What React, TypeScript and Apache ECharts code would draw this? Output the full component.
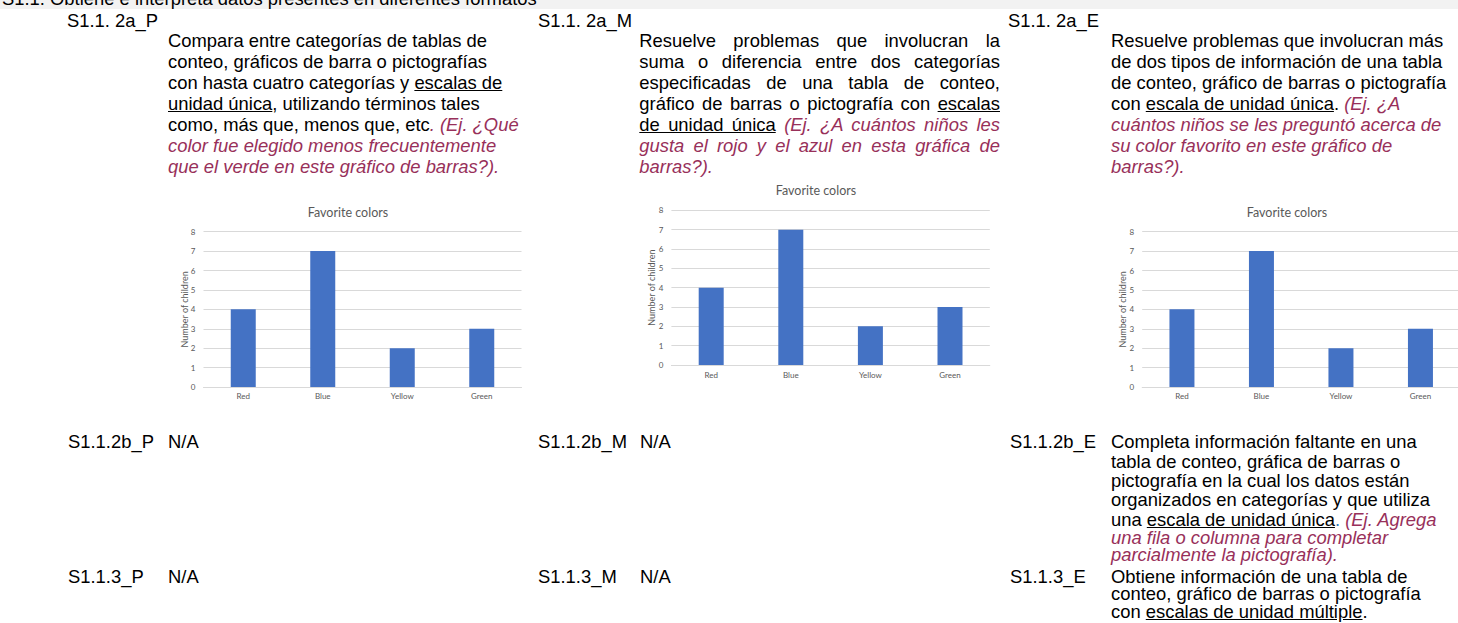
import React, { useEffect, useRef } from "react";
import * as echarts from "echarts";

// ---- data ----
const categories = ["Red", "Blue", "Yellow", "Green"];
const childrenCounts = [4, 7, 2, 3];
const yMin = 0;
const yMax = 8;
const yInterval = 1;
const chartTitle = "Favorite colors";
const yAxisName = "Number of children";

const FONT = '"Liberation Sans", Arial, sans-serif';
const CHART_FONT = 'Lato, "Noto Sans", sans-serif';
const MAROON = "#98305a";
const FS = 18.4;

type ChartProps = {
  left: number; top: number; width: number; height: number;
  gridLeft: number; gridTop: number; gridWidth: number; gridHeight: number;
  titleTop: number; labelMargin: number;
};

function BarChart(p: ChartProps) {
  const ref = useRef<HTMLDivElement>(null);
  useEffect(() => {
    const chart = echarts.init(ref.current!, null, { renderer: "svg" });
    chart.setOption({
      animation: false,
      title: {
        text: chartTitle,
        left: "center",
        top: p.titleTop,
        textStyle: { fontFamily: CHART_FONT, fontSize: 12.5, fontWeight: "normal", color: "#595959" },
      },
      grid: { left: p.gridLeft, top: p.gridTop, width: p.gridWidth, height: p.gridHeight, containLabel: false },
      xAxis: {
        type: "category",
        data: categories,
        axisLine: { show: true, lineStyle: { color: "#d9d9d9", width: 1 } },
        axisTick: { show: false },
        axisLabel: { color: "#595959", fontFamily: CHART_FONT, fontSize: 8, margin: p.labelMargin },
      },
      yAxis: {
        type: "value",
        min: yMin,
        max: yMax,
        interval: yInterval,
        name: yAxisName,
        nameLocation: "middle",
        nameGap: 15,
        nameMoveOverlap: false,
        nameTextStyle: { color: "#595959", fontFamily: CHART_FONT, fontSize: 9 },
        axisLine: { show: false },
        axisTick: { show: false },
        axisLabel: { color: "#595959", fontFamily: CHART_FONT, fontSize: 8, margin: 8 },
        splitLine: { lineStyle: { color: "#d9d9d9", width: 1 } },
      },
      series: [
        {
          type: "bar",
          data: childrenCounts,
          barWidth: 25,
          itemStyle: { color: "#4472c4" },
        },
      ],
    });
    return () => chart.dispose();
  }, []);
  return (
    <div
      ref={ref}
      style={{ position: "absolute", left: p.left, top: p.top, width: p.width, height: p.height, overflow: "hidden" }}
    />
  );
}

const U = ({ children }: { children: React.ReactNode }) => (
  <span style={{ textDecoration: "underline" }}>{children}</span>
);
const I = ({ children }: { children: React.ReactNode }) => (
  <span style={{ fontStyle: "italic", color: MAROON }}>{children}</span>
);

function Block({
  left, top, lh, lines, width, justify,
}: {
  left: number; top: number; lh: number; lines: React.ReactNode[]; width?: number; justify?: boolean;
}) {
  return (
    <div style={{ position: "absolute", left, top, width, fontFamily: FONT, fontSize: FS, lineHeight: lh + "px", color: "#000" }}>
      {lines.map((l, i) => (
        <div
          key={i}
          style={{
            height: lh,
            whiteSpace: justify ? "normal" : "nowrap",
            textAlign: justify ? "justify" : "left",
            textAlignLast: justify && i < lines.length - 1 ? "justify" : "left",
          } as React.CSSProperties}
        >
          {l}
        </div>
      ))}
    </div>
  );
}

// lines placed at given baselines (line-height 17px)
function LinesAt({ left, baselines, lines }: { left: number; baselines: number[]; lines: React.ReactNode[] }) {
  return (
    <>
      {lines.map((l, i) => (
        <div
          key={i}
          style={{
            position: "absolute", left, top: baselines[i] - 14.875, height: 17,
            fontFamily: FONT, fontSize: FS, lineHeight: "17px", whiteSpace: "nowrap", color: "#000",
          }}
        >
          {l}
        </div>
      ))}
    </>
  );
}

export default function App() {
  const L1 = 21.1;
  const labTop = 9.6;
  const paraTop = 29.8;
  const b2 = 448;
  const b3 = 582.5;
  const lowBaselines = [448, 467.4, 486.8, 506.2, 525.6, 543.4, 561.2, 582.5, 600.2, 617.5];
  return (
    <div style={{ position: "fixed", left: 0, top: 0, width: 1458, height: 623, overflow: "hidden", background: "#fff" }}>
      <div style={{ position: "absolute", left: 0, top: 0, width: 1458, height: 8.5, background: "#f2f2f2" }} />
      <Block left={2} top={-12.4} lh={L1} lines={["S1.1. Obtiene e interpreta datos presentes en diferentes formatos"]} />

      <Block left={67} top={labTop} lh={L1} lines={["S1.1. 2a_P"]} />
      <Block left={538} top={labTop} lh={L1} lines={["S1.1. 2a_M"]} />
      <Block left={1008} top={labTop} lh={L1} lines={["S1.1. 2a_E"]} />

      <Block
        left={168}
        top={paraTop}
        lh={L1}
        lines={[
          "Compara entre categorías de tablas de",
          "conteo, gráficos de barra o pictografías",
          <>con hasta cuatro categorías y <U>escalas de </U></>,
          <><U>unidad única</U>, utilizando términos tales</>,
          <>como, más que, menos que, etc<I>. (Ej. ¿Qué</I></>,
          <I>color fue elegido menos frecuentemente</I>,
          <I>que el verde en este gráfico de barras?).</I>,
        ]}
      />
      <Block
        left={639.3}
        top={paraTop}
        lh={L1}
        width={360.7}
        justify
        lines={[
          "Resuelve problemas que involucran la",
          "suma o diferencia entre dos categorías",
          "especificadas de una tabla de conteo,",
          <>gráfico de barras o pictografía con <U>escalas</U></>,
          <><U>de unidad única</U> <I>(Ej. ¿A cuántos niños les</I></>,
          <I>gusta el rojo y el azul en esta gráfica de</I>,
          <I>barras?).</I>,
        ]}
      />
      <Block
        left={1111}
        top={paraTop}
        lh={L1}
        lines={[
          "Resuelve problemas que involucran más",
          "de dos tipos de información de una tabla",
          "de conteo, gráfico de barras o pictografía",
          <>con <U>escala de unidad única</U>. <I>(Ej. ¿A</I></>,
          <I>cuántos niños se les preguntó acerca de</I>,
          <I>su color favorito en este gráfico de</I>,
          <I>barras?).</I>,
        ]}
      />

      <BarChart left={160} top={195} width={376} height={205}
        gridLeft={43.5} gridTop={36.7} gridWidth={318} gridHeight={155.6} titleTop={6} labelMargin={5} />
      <BarChart left={630} top={178} width={371.6} height={215}
        gridLeft={41.4} gridTop={32.3} gridWidth={318.4} gridHeight={154.7} titleTop={1} labelMargin={6} />
      <BarChart left={1100} top={195} width={374} height={205}
        gridLeft={42.2} gridTop={36.7} gridWidth={318} gridHeight={155.6} titleTop={6} labelMargin={5} />

      <LinesAt left={68} baselines={[b2, b3]} lines={["S1.1.2b_P", "S1.1.3_P"]} />
      <LinesAt left={168} baselines={[b2, b3]} lines={["N/A", "N/A"]} />
      <LinesAt left={538} baselines={[b2, b3]} lines={["S1.1.2b_M", "S1.1.3_M"]} />
      <LinesAt left={640} baselines={[b2, b3]} lines={["N/A", "N/A"]} />
      <LinesAt left={1010} baselines={[b2, b3]} lines={["S1.1.2b_E", "S1.1.3_E"]} />

      <LinesAt
        left={1111}
        baselines={lowBaselines}
        lines={[
          "Completa información faltante en una",
          "tabla de conteo, gráfica de barras o",
          "pictografía en la cual los datos están",
          "organizados en categorías y que utiliza",
          <>una <U>escala de unidad única</U><span style={{ color: "#2e75b6" }}>.</span> <I>(Ej. Agrega</I></>,
          <I>una fila o columna para completar</I>,
          <I>parcialmente la pictografía).</I>,
          "Obtiene información de una tabla de",
          "conteo, gráfico de barras o pictografía",
          <>con <U>escalas de unidad múltiple</U>.</>,
        ]}
      />
    </div>
  );
}
